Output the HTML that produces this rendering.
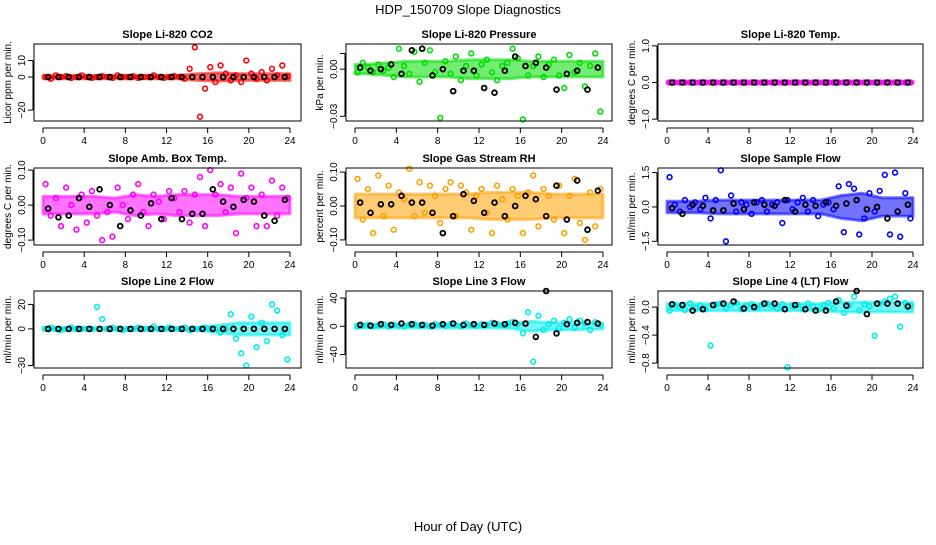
<!DOCTYPE html>
<html><head><meta charset="utf-8"><style>
body{margin:0;background:#fff;width:936px;height:540px;overflow:hidden}
svg{font-family:"Liberation Sans",Arial,sans-serif}
</style></head><body>
<svg id="chart" width="936" height="540" viewBox="0 0 936 540">
<text x="468" y="14" text-anchor="middle" font-size="13">HDP_150709  Slope Diagnostics</text>
<text x="468" y="531" text-anchor="middle" font-size="13">Hour of Day (UTC)</text>
</svg>
<script>
// ---- data (colored series every 0.5 h; black series hourly; band = dense-cloud half-width per 2 h) ----
const xTicks = [0,4,8,12,16,20,24];
const co2 = [0,-1,1,0,0.5,-0.5,0,1,0,-0.5,0,0.5,0,-0.5,1,0,0,0.5,-0.5,0,0,1,0,-0.5,0,0.5,0,-1,5,18,-24,-7,6,-3,7,2,-2,1,-3,10,2,-1,3,-2,5,1,7,0.5];
const co2Black = [0,0,0,0,0,0,0,0,0,0,0,0,0,0,0,0,0,0,0,0,0,0,0,0];
const co2Band = [1,1,1,1,1,1,1,2,2.5,2,2,2];
const pres = [-0.002,0.004,0.001,-0.002,0.003,-0.001,0.001,-0.005,0.013,0.002,-0.003,0.011,-0.008,0.004,0.012,-0.002,-0.031,0.005,-0.003,0.008,-0.007,0.002,0.01,-0.004,0.003,0.006,-0.002,-0.007,0.002,0.004,0.013,0.007,-0.032,-0.004,0.002,0.008,-0.005,0.003,0.006,-0.004,-0.012,0.009,-0.002,0.004,-0.011,0.002,0.01,-0.027];
const presBlack = [0.001,-0.001,0,0.003,-0.003,0.012,0.013,-0.004,0,-0.014,-0.001,-0.001,-0.012,-0.015,-0.001,0.008,0.002,0.004,0.001,-0.013,-0.003,-0.001,-0.013,0.001];
const presBand = [0.003,0.004,0.005,0.005,0.005,0.006,0.006,0.006,0.005,0.005,0.005,0.005];
const temp = [0,0,0,0,0,0,0,0,0,0,0,0,0,0,0,0,0,0,0,0,0,0,0,0,0,0,0,0,0,0,0,0,0,0,0,0,0,0,0,0,0,0,0,0,0,0,0,0];
const tempBlack = [0,0,0,0,0,0,0,0,0,0,0,0,0,0,0,0,0,0,0,0,0,0,0,0];
const tempBand = [0.03,0.03,0.03,0.03,0.03,0.03,0.03,0.03,0.03,0.03,0.03,0.03];
const amb = [0.06,-0.03,0.02,-0.06,0.05,0,-0.07,0.03,-0.05,0.04,-0.03,-0.1,-0.02,-0.09,0.05,0,-0.04,0.03,0.06,-0.02,-0.06,0.03,0.01,-0.04,0.04,0.02,-0.02,0.04,-0.05,0.03,0.08,-0.06,0.1,0.03,0.06,-0.02,0.05,-0.08,0.09,0.02,0.05,-0.06,0.03,-0.06,0.07,-0.03,0.05,0.02];
const ambBlack = [-0.01,-0.035,-0.03,0.02,-0.005,0.045,0,-0.06,-0.015,-0.03,0.005,-0.04,0.02,-0.04,-0.025,-0.025,0.045,0.01,-0.005,0.015,0.01,-0.03,-0.045,0.015];
const ambBand = [0.025,0.025,0.025,0.02,0.03,0.025,0.03,0.03,0.03,0.025,0.025,0.025];
const rh = [0.08,-0.04,0.05,-0.08,0.09,-0.03,0.06,-0.07,0.04,0.02,0.11,-0.03,0.07,-0.02,0.06,0.03,-0.05,0.05,0.07,-0.03,0.06,0.04,-0.07,0.03,0.05,-0.02,-0.08,0.06,0.02,-0.04,0.05,0.03,-0.08,0.04,0.09,-0.06,0.05,0.03,-0.04,0.06,-0.08,0.03,0.08,-0.05,-0.1,0.04,-0.06,0.05];
const rhBlack = [0.01,-0.02,0.005,0.005,0.03,0.01,0.01,-0.02,-0.08,-0.03,0.035,0.015,-0.02,0.01,-0.03,0,0.03,0.02,-0.03,0.06,-0.04,0.075,-0.07,0.045];
const rhBand = [0.035,0.035,0.035,0.035,0.035,0.035,0.04,0.04,0.04,0.035,0.035,0.035];
const sflow = [1.3,0.1,-0.2,0.3,0,0.2,-0.1,0.4,-0.5,0.3,1.6,-1.5,0.5,-0.2,0.2,0.1,-0.3,0.2,0.3,-0.2,0.1,0.2,-0.7,0.3,-0.1,0.2,0.4,-0.2,0.3,-0.4,0.1,0.2,-0.1,0.9,-1.1,1.0,0.8,-1.2,-0.5,0.6,-0.2,0.7,1.4,-1.2,1.5,-1.3,0.6,-0.5];
const sflowBlack = [-0.05,-0.3,0.1,0.05,-0.15,-0.15,0.15,-0.1,0.2,0.1,0.05,0.3,-0.2,0.1,0.05,0.2,0.05,0.15,0.3,-0.1,0,-0.5,-0.2,0.1];
const sflowBand = [0.25,0.25,0.3,0.3,0.3,0.3,0.3,0.3,0.5,0.6,0.4,0.4];
const line2 = [0,1,0,-1,0,1,0,0,0,0,18,8,0,1,0,-1,0,0,1,0,0,2,0,0,1,0,0,1,-1,0,0,1,0,0,-3,0,12,-8,-20,-30,10,-15,5,-10,20,15,-5,-25];
const line2Black = [0,0,0,0,0,0,0,0,0,0,0,0,0,0,0,0,0,0,0,0,0,0,0,0];
const line2Band = [1.2,1.2,1.2,1.2,1.2,1.2,1.2,1.2,3,5,5,5];
const line3 = [0,1,2,0,1,3,0,2,1,0,2,3,1,2,0,3,2,1,3,2,0,4,2,1,3,2,5,3,2,4,6,3,-10,20,-50,15,-5,3,8,-3,5,10,-2,8,4,-5,6,2];
const line3Black = [2,1,3,2,4,3,2,1,3,4,2,3,2,4,3,5,4,-15,50,-10,3,5,6,4];
const line3Band = [2.5,2.5,2.5,2.5,2.5,2.5,2.5,3,7,5,5,4];
const line4 = [-0.05,0.03,0,-0.04,0.05,-0.02,0.02,-0.03,-0.55,0.04,0.05,-0.02,0.03,0.06,-0.03,0.02,0.04,-0.01,0.03,0.05,0.02,-0.02,0.04,-0.86,0.02,0.03,-0.03,0.05,0.01,-0.04,0.03,0.06,-0.02,0.1,-0.08,0.02,0.15,-0.05,0.04,0.01,-0.41,0.05,0.08,0.12,0.15,-0.28,0.06,0.02];
const line4Black = [0.04,0.03,-0.05,-0.03,0.03,0.05,0.08,-0.02,0,0.05,0.05,-0.03,0.03,-0.03,-0.05,-0.05,0.08,0.02,0.23,-0.1,0.05,0.05,0.05,0.01];
const line4Band = [0.05,0.05,0.05,0.05,0.05,0.05,0.05,0.05,0.07,0.07,0.07,0.07];

const svg = document.getElementById('chart');
const NS = 'http://www.w3.org/2000/svg';
function mk(tag, attrs, parent){const e=document.createElementNS(NS,tag);for(const k in attrs)e.setAttribute(k,attrs[k]);(parent||svg).appendChild(e);return e;}

const panels = [
 {key:'co2',title:'Slope Li-820 CO2',ylab:'Licor ppm per min.',c:co2,b:co2Black,band:co2Band,col:'#ff0000',min:-26.6,max:20,ticks:[-20,0,10],tl:['\u221220','0','10']},
 {key:'pressure',title:'Slope Li-820 Pressure',ylab:'kPa per min.',c:pres,b:presBlack,band:presBand,col:'#00dd00',min:-0.033,max:0.016,ticks:[-0.03,0,0.01],tl:['\u22120.03','0.00','']},
 {key:'temp',title:'Slope Li-820 Temp.',ylab:'degrees C per min.',c:temp,b:tempBlack,band:tempBand,col:'#ff00ff',min:-1.05,max:1.05,ticks:[-1,0,1],tl:['\u22121.0','0.0','1.0']},
 {key:'amb-temp',title:'Slope Amb. Box Temp.',ylab:'degrees C per min.',c:amb,b:ambBlack,band:ambBand,col:'#ff00ff',min:-0.114,max:0.106,ticks:[-0.1,0,0.1],tl:['\u22120.10','0.00','0.10']},
 {key:'rh',title:'Slope Gas Stream RH',ylab:'percent per min.',c:rh,b:rhBlack,band:rhBand,col:'#ffa000',min:-0.115,max:0.112,ticks:[-0.1,0,0.1],tl:['\u22120.10','0.00','0.10']},
 {key:'sample-flow',title:'Slope Sample Flow',ylab:'ml/min per min.',c:sflow,b:sflowBlack,band:sflowBand,col:'#0000ff',min:-1.66,max:1.7,ticks:[-1.5,0,1.5],tl:['\u22121.5','0.0','1.5']},
 {key:'line2-flow',title:'Slope Line 2 Flow',ylab:'ml/min per min.',c:line2,b:line2Black,band:line2Band,col:'#00eeee',min:-32,max:31,ticks:[-30,0,20],tl:['\u221230','0','20']},
 {key:'line3-flow',title:'Slope Line 3 Flow',ylab:'ml/min per min.',c:line3,b:line3Black,band:line3Band,col:'#00eeee',min:-59,max:50,ticks:[-40,0,40],tl:['\u221240','0','40']},
 {key:'line4-flow',title:'Slope Line 4 (LT) Flow',ylab:'ml/min per min.',c:line4,b:line4Black,band:line4Band,col:'#00eeee',min:-0.87,max:0.23,ticks:[-0.8,-0.4,0],tl:['\u22120.8','\u22120.4','0.0']}
];
const colBox=[[34,301],[346,612],[658,923]];
const colX=[[43,290],[355,603],[667,913]];
const rowBox=[[44,121],[168,245],[291,368]];

panels.forEach((p,i)=>{
  const ci=i%3, ri=Math.floor(i/3);
  const [bx0,bx1]=colBox[ci],[by0,by1]=rowBox[ri],[x0,x1]=colX[ci];
  const xs=v=>x0+(x1-x0)*v/24;
  const ys=v=>by1-(by1-by0)*(v-p.min)/(p.max-p.min);
  const g=mk('g',{});
  
  
  const t=mk('text',{x:(bx0+bx1)/2,y:by0-6,'text-anchor':'middle','font-size':'11','font-weight':'bold'},g);
  t.textContent=p.title;
  
  
  const yl=mk('text',{x:0,y:0,transform:`translate(${bx0-23},${(by0+by1)/2}) rotate(-90)`,'text-anchor':'middle','font-size':'10'},g);
  yl.textContent=p.ylab;
  
  
  const xa=mk('g',{},g);
  
  
  mk('line',{x1:xs(0),x2:xs(24),y1:by1+7,y2:by1+7,stroke:'#000'},xa);
  xTicks.forEach(v=>{
    mk('line',{x1:xs(v),x2:xs(v),y1:by1+7,y2:by1+12,stroke:'#000'},xa);
    const tx=mk('text',{x:xs(v),y:by1+23,'text-anchor':'middle','font-size':'10'},xa);
    tx.textContent=v;
    
    
  });
  const ya=mk('g',{},g);
  
  
  mk('line',{x1:bx0-1,x2:bx0-1,y1:ys(p.ticks[0]),y2:ys(p.ticks[p.ticks.length-1]),stroke:'#000'},ya);
  p.ticks.forEach((v,k)=>{
    const y=ys(v);
    mk('line',{x1:bx0-6,x2:bx0-1,y1:y,y2:y,stroke:'#000'},ya);
    const tx=mk('text',{x:0,y:0,transform:`translate(${bx0-9},${y}) rotate(-90)`,'text-anchor':'middle','font-size':'10'},ya);
    tx.textContent=p.tl[k];
    
    
  });
  // dense cloud band (smooth, semi-transparent)
  const n=p.band.length;
  const topPts=p.band.map((w,k)=>xs((k+0.5)*24/n)+','+ys(w));
  const botPts=p.band.map((w,k)=>xs((k+0.5)*24/n)+','+ys(-w)).reverse();
  const bandPts=[xs(0)+','+ys(p.band[0])].concat(topPts,[xs(24)+','+ys(p.band[n-1]),xs(24)+','+ys(-p.band[n-1])],botPts,[xs(0)+','+ys(-p.band[0])]);
  const band=mk('polygon',{points:bandPts.join(' '),fill:p.col,'fill-opacity':'0.55',stroke:p.col,'stroke-opacity':'0.55','stroke-width':'3','stroke-linejoin':'round'},g);
  
  
  const cg=mk('g',{fill:'none',stroke:p.col,'stroke-width':'1.6'},g);
  
  
  p.c.forEach((v,k)=>{
    const h=k*24/p.c.length+0.25;
    const c=mk('circle',{cx:xs(h),cy:ys(v),r:2.4},cg);
    
    
  });
  const kg=mk('g',{fill:'none',stroke:'#000','stroke-width':'1.8'},g);
  
  
  p.b.forEach((v,k)=>{
    const h=k*24/p.b.length+0.5;
    const c=mk('circle',{cx:xs(h),cy:ys(v),r:2.4},kg);
    
    
  });
  const box=mk('rect',{x:bx0,y:by0,width:bx1-bx0,height:by1-by0,fill:'none',stroke:'#000'},g);
  
  
});
</script>
</body></html>
